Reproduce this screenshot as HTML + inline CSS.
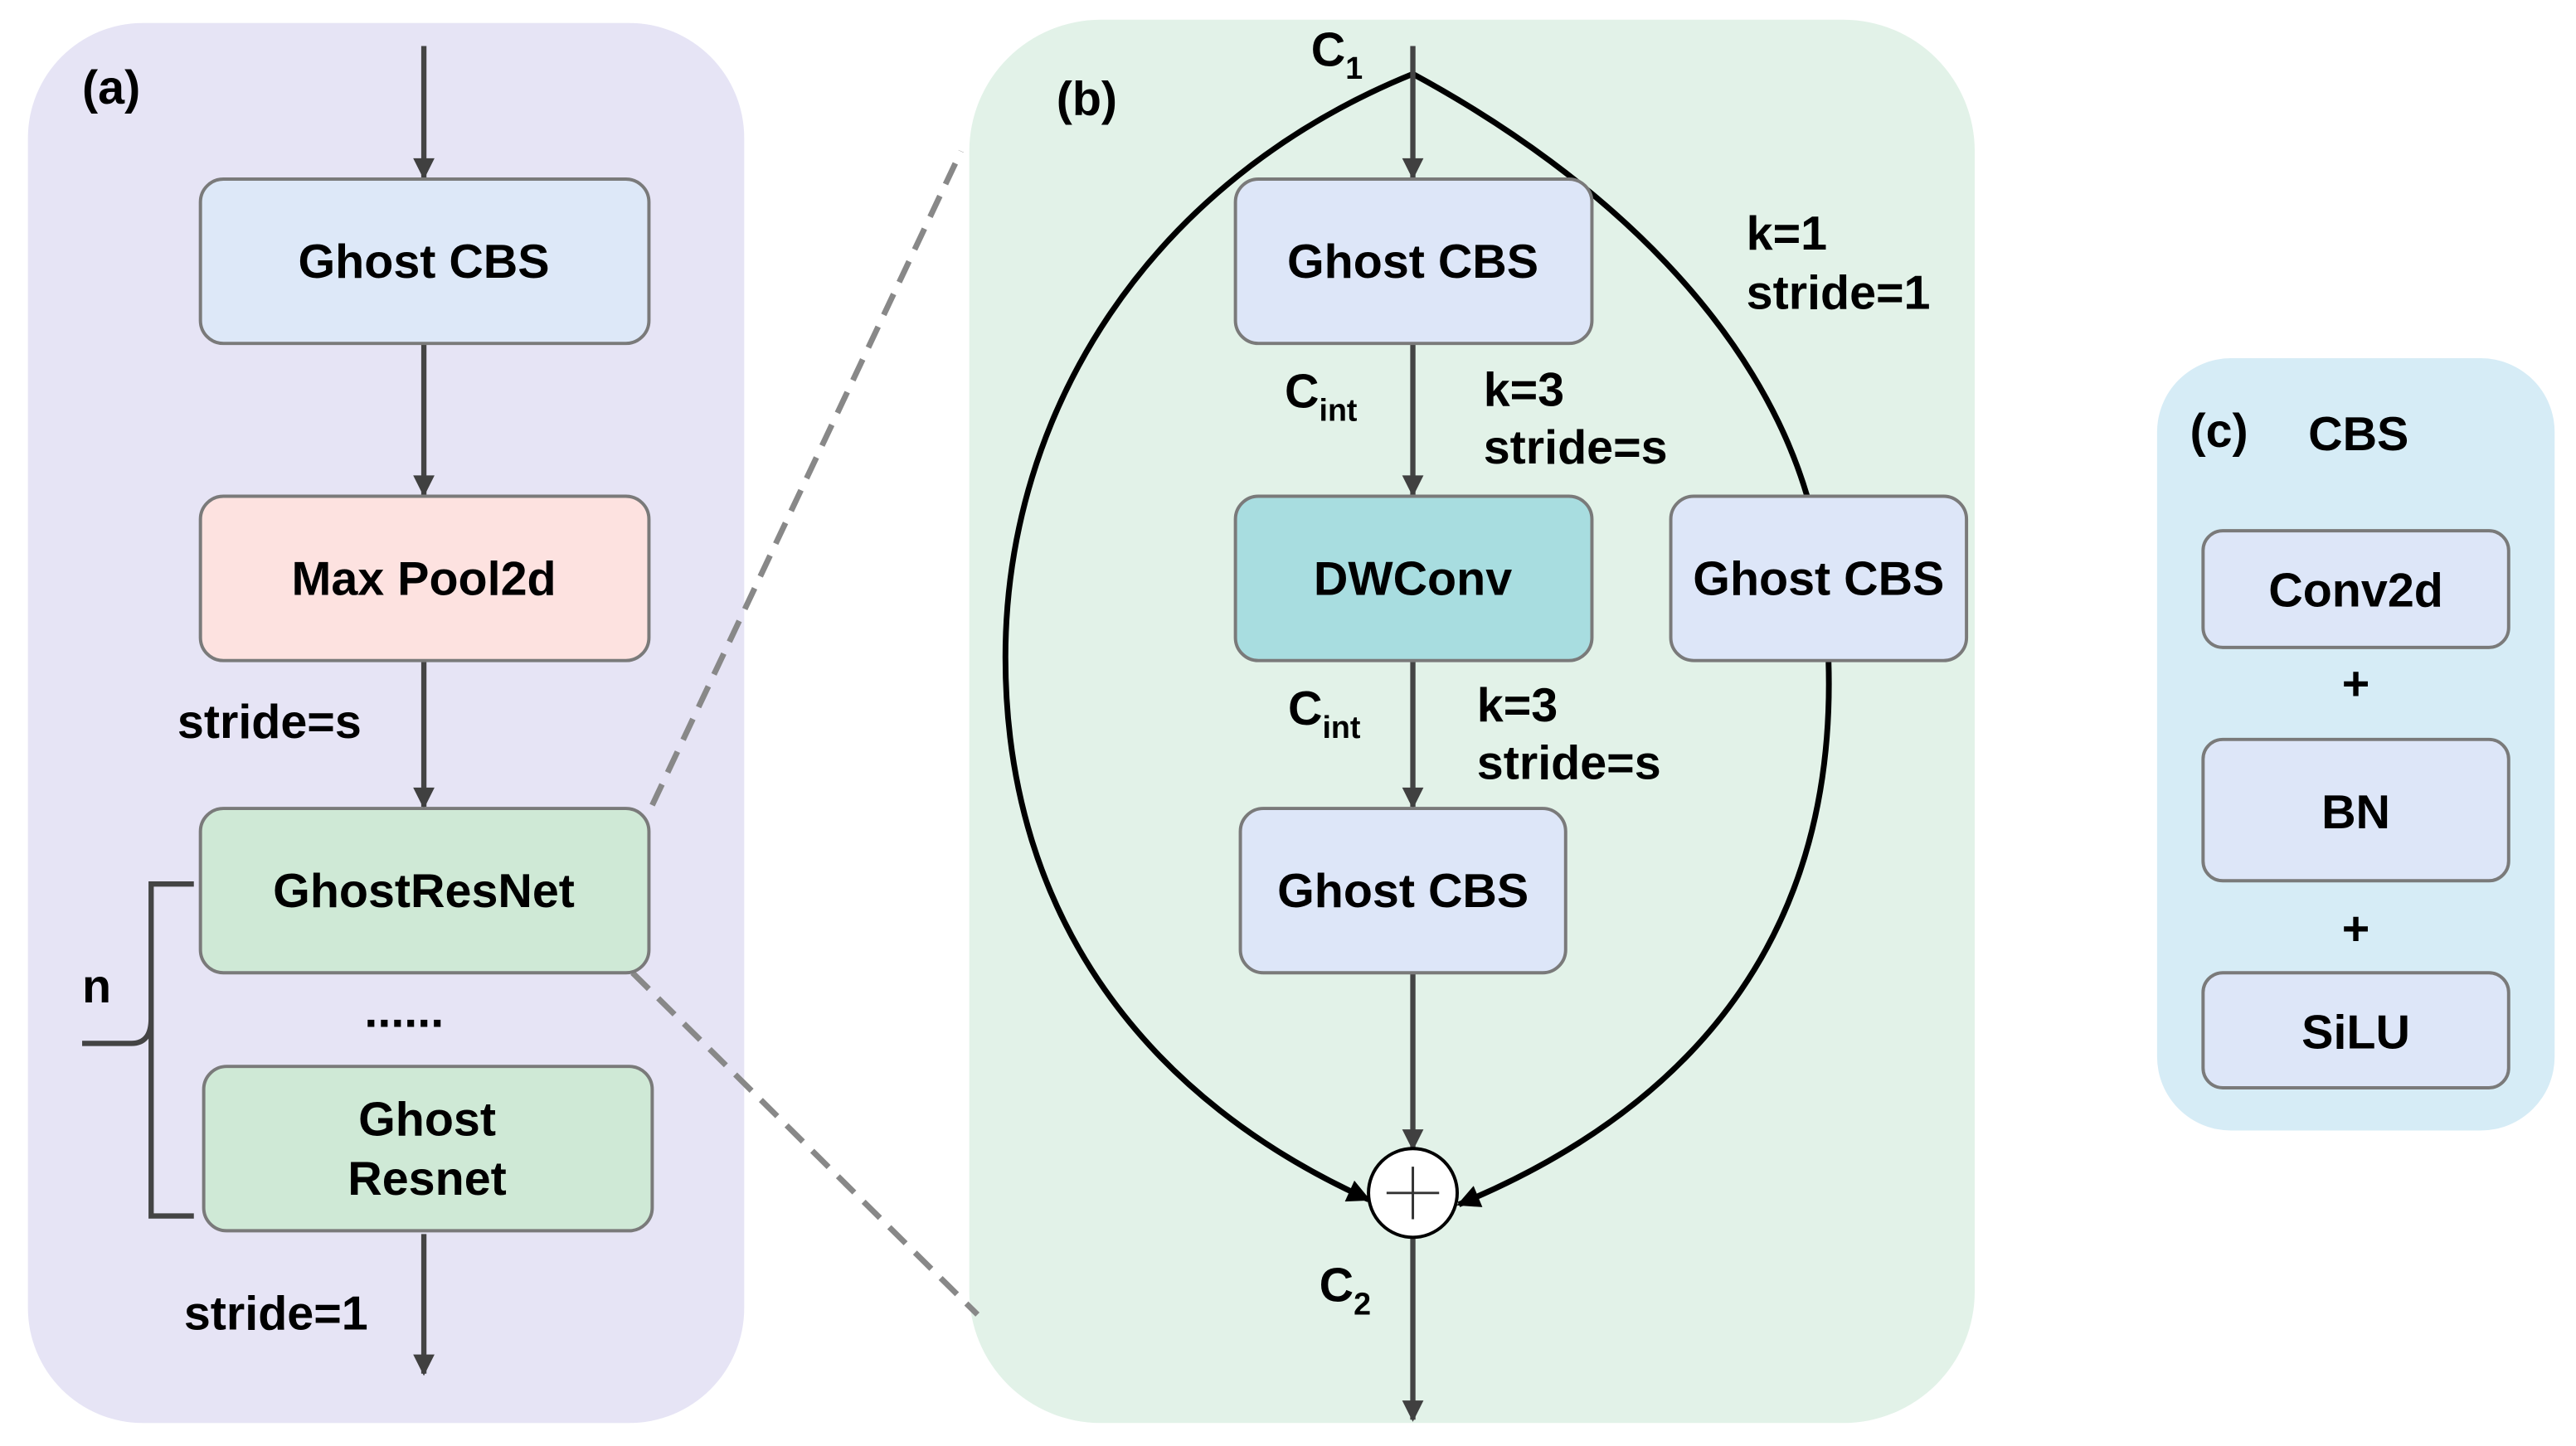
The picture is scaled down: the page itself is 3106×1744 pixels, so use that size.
<!DOCTYPE html>
<html><head><meta charset="utf-8"><style>
html,body{margin:0;padding:0;background:#fff;}
svg{display:block;}
text{font-family:"Liberation Sans",sans-serif;font-weight:bold;fill:#000;}
</style></head><body>
<svg width="3106" height="1744" viewBox="0 0 1568 880" preserveAspectRatio="none" xmlns="http://www.w3.org/2000/svg">
<defs>
<marker id="ag" viewBox="0 0 10 10" refX="9" refY="5" markerWidth="16" markerHeight="13" orient="auto" markerUnits="userSpaceOnUse"><path d="M0,0 L10,5 L0,10 z" fill="#404040"/></marker>
<marker id="ak" viewBox="0 0 10 10" refX="9" refY="5" markerWidth="18" markerHeight="14" orient="auto" markerUnits="userSpaceOnUse"><path d="M0,0 L10,5 L0,10 z" fill="#000"/></marker>
</defs>
<rect width="1568" height="880" fill="#fff"/>
<rect x="17" y="14" width="436" height="852" rx="70" fill="#e6e4f5"/>
<rect x="590" y="12" width="612" height="854" rx="80" fill="#e2f2e8"/>
<rect x="1313" y="218" width="242" height="470" rx="45" fill="#d6ecf6"/>
<line x1="397" y1="490" x2="585" y2="92" stroke="#888" stroke-width="3.5" stroke-dasharray="14,8"/>
<line x1="385" y1="592" x2="595" y2="800" stroke="#888" stroke-width="3.5" stroke-dasharray="14,8"/>
<text x="50" y="63" font-size="29">(a)</text>
<g stroke="#444" stroke-width="3.2" fill="none">
<line x1="258" y1="28" x2="258" y2="108" marker-end="url(#ag)"/>
<line x1="258" y1="209" x2="258" y2="301" marker-end="url(#ag)"/>
<line x1="258" y1="402" x2="258" y2="491" marker-end="url(#ag)"/>
<line x1="258" y1="751" x2="258" y2="836" marker-end="url(#ag)"/>
<path d="M118,538 L92,538 L92,740 L118,740 M92,620 Q92,635 80,635 L50,635"/>
</g>
<g stroke="#7a7a7a" stroke-width="2">
<rect x="122" y="109" width="273" height="100" rx="14" fill="#dde8f8"/>
<rect x="122" y="302" width="273" height="100" rx="14" fill="#fde2e0"/>
<rect x="122" y="492" width="273" height="100" rx="14" fill="#cfe9d6"/>
<rect x="124" y="649" width="273" height="100" rx="14" fill="#cfe9d6"/>
</g>
<g font-size="29" text-anchor="middle">
<text x="258" y="169">Ghost CBS</text>
<text x="258" y="362">Max Pool2d</text>
<text x="258" y="552">GhostResNet</text>
<text x="260" y="691">Ghost</text>
<text x="260" y="727">Resnet</text>
<text x="246" y="625">......</text>
</g>
<text x="108" y="449" font-size="29">stride=s</text>
<text x="112" y="809" font-size="29">stride=1</text>
<text x="50" y="610" font-size="29">n</text>
<text x="643" y="70" font-size="29">(b)</text>
<text x="798" y="40" font-size="29">C<tspan font-size="19" dy="8">1</tspan></text>
<g stroke="#000" stroke-width="3.5" fill="none">
<path d="M860,45 C700,110 612,250 612,400 C612,560 700,670 833,730" marker-end="url(#ak)"/>
<path d="M860,45 C980,110 1070,200 1100,302"/>
<path d="M1113,402 C1118,560 1040,670 888,733" marker-end="url(#ak)"/>
</g>
<g stroke="#444" stroke-width="3.2" fill="none">
<line x1="860" y1="28" x2="860" y2="108" marker-end="url(#ag)"/>
<line x1="860" y1="209" x2="860" y2="301" marker-end="url(#ag)"/>
<line x1="860" y1="402" x2="860" y2="491" marker-end="url(#ag)"/>
<line x1="860" y1="592" x2="860" y2="699" marker-end="url(#ag)"/>
<line x1="860" y1="753" x2="860" y2="864" marker-end="url(#ag)"/>
</g>
<g stroke="#7a7a7a" stroke-width="2">
<rect x="752" y="109" width="217" height="100" rx="14" fill="#dde6f8"/>
<rect x="752" y="302" width="217" height="100" rx="14" fill="#a8dde0"/>
<rect x="755" y="492" width="198" height="100" rx="14" fill="#dde6f8"/>
<rect x="1017" y="302" width="180" height="100" rx="14" fill="#dde6f8"/>
</g>
<circle cx="860" cy="726" r="27" fill="#fff" stroke="#000" stroke-width="2"/>
<path d="M844,726 H876 M860,710 V742" stroke="#333" stroke-width="1.5"/>
<g font-size="29" text-anchor="middle">
<text x="860" y="169">Ghost CBS</text>
<text x="860" y="362">DWConv</text>
<text x="854" y="552">Ghost CBS</text>
<text x="1107" y="362">Ghost CBS</text>
</g>
<g font-size="29">
<text x="782" y="248">C<tspan font-size="19" dy="8">int</tspan></text>
<text x="784" y="441">C<tspan font-size="19" dy="8">int</tspan></text>
<text x="803" y="792">C<tspan font-size="19" dy="8">2</tspan></text>
<text x="903" y="247">k=3</text>
<text x="903" y="282">stride=s</text>
<text x="899" y="439">k=3</text>
<text x="899" y="474">stride=s</text>
<text x="1063" y="152">k=1</text>
<text x="1063" y="188">stride=1</text>
</g>
<text x="1333" y="272" font-size="29">(c)</text>
<text x="1405" y="274" font-size="29">CBS</text>
<g stroke="#7a7a7a" stroke-width="2" fill="#dde6f8">
<rect x="1341" y="323" width="186" height="71" rx="12"/>
<rect x="1341" y="450" width="186" height="86" rx="12"/>
<rect x="1341" y="592" width="186" height="70" rx="12"/>
</g>
<g font-size="29" text-anchor="middle">
<text x="1434" y="369">Conv2d</text>
<text x="1434" y="504">BN</text>
<text x="1434" y="638">SiLU</text>
<text x="1434" y="426">+</text>
<text x="1434" y="575">+</text>
</g>
</svg>
</body></html>
